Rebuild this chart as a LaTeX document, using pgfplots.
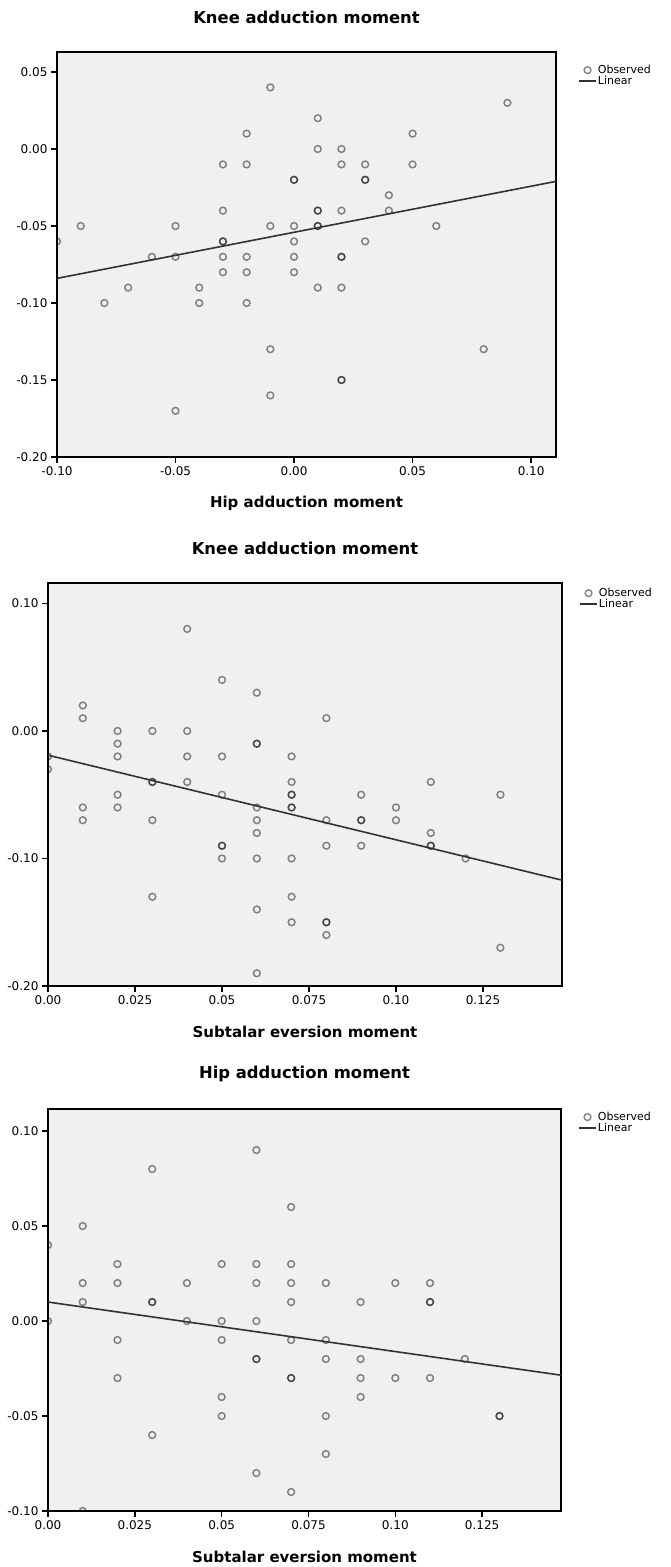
\documentclass[border=0pt]{standalone}
\usepackage{fontspec}
\setmainfont{DejaVu Sans}
\usepackage{pgfplots}
\pgfplotsset{compat=1.18}
\definecolor{bgc}{RGB}{240,240,240}
\definecolor{linec}{RGB}{50,50,50}
\pgfplotsset{
  spss/.style={
    scale only axis,
    axis background/.style={fill=bgc},
    axis line style={line width=1.6pt, black},
    tick align=outside,
    xtick pos=bottom, ytick pos=left,
    major tick length=6pt,
    tick style={line width=1.6pt, black},
    ticklabel style={font=\fontsize{12}{13}\selectfont},
    /pgf/number format/assume math mode=true,
    xlabel style={font=\bfseries\fontsize{15}{17}\selectfont, at={(0.5,0)}, anchor=center, yshift=-46pt},
    title style={font=\bfseries\fontsize{16.4}{18}\selectfont, at={(0.5,1)}, anchor=center, yshift=29pt},
    clip marker paths=true,
    legend style={draw=none, fill=none, font=\fontsize{11}{12}\selectfont,
      at={(1,1)}, anchor=north west, inner sep=0pt, row sep=-1pt,
      nodes={inner sep=1pt}},
    legend cell align=left,
  },
  obs/.style={only marks, mark=o, mark size=3.4pt,
    mark options={line width=1.45pt, draw=black, draw opacity=0.47}},
  lin/.style={no marks, color=linec, line width=1.6pt},
}
\begin{document}
\begin{tikzpicture}
\useasboundingbox (0,0) rectangle (670pt,-1567pt);
% ---------- Panel 1 ----------
\begin{axis}[spss,
  at={(57pt,-457pt)}, anchor=south west,
  width=499pt, height=405pt,
  xmin=-0.10, xmax=0.1105, ymin=-0.20, ymax=0.063,
  xtick={-0.10,-0.05,0,0.05,0.10},
  xticklabels={-0.10,-0.05,0.00,0.05,0.10},
  ytick={-0.20,-0.15,-0.10,-0.05,0,0.05},
  yticklabels={-0.20,-0.15,-0.10,-0.05,0.00,0.05},
  title={Knee adduction moment},
  xlabel={Hip adduction moment},
  legend style={xshift=22pt, yshift=-12pt},
]
\addplot[obs] coordinates {
(-0.10,-0.06)
(-0.09,-0.05)
(-0.08,-0.10)
(-0.07,-0.09)
(-0.06,-0.07)
(-0.05,-0.05) (-0.05,-0.07) (-0.05,-0.17)
(-0.04,-0.09) (-0.04,-0.10)
(-0.03,-0.01) (-0.03,-0.04) (-0.03,-0.06) (-0.03,-0.06) (-0.03,-0.07) (-0.03,-0.08)
(-0.02,0.01) (-0.02,-0.01) (-0.02,-0.07) (-0.02,-0.08) (-0.02,-0.10)
(-0.01,0.04) (-0.01,-0.05) (-0.01,-0.13) (-0.01,-0.16)
(0.00,-0.02) (0.00,-0.02) (0.00,-0.05) (0.00,-0.06) (0.00,-0.07) (0.00,-0.08)
(0.01,0.02) (0.01,0.00) (0.01,-0.04) (0.01,-0.04) (0.01,-0.05) (0.01,-0.05) (0.01,-0.09)
(0.02,0.00) (0.02,-0.01) (0.02,-0.04) (0.02,-0.07) (0.02,-0.07) (0.02,-0.09) (0.02,-0.15) (0.02,-0.15)
(0.03,-0.01) (0.03,-0.02) (0.03,-0.02) (0.03,-0.06)
(0.04,-0.03) (0.04,-0.04)
(0.05,0.01) (0.05,-0.01)
(0.06,-0.05)
(0.08,-0.13)
(0.09,0.03)
};
\addlegendentry{Observed}
\addplot[lin] coordinates {(-0.10,-0.084) (0.1105,-0.021)};
\addlegendentry{Linear}
\end{axis}
% ---------- Panel 2 ----------
\begin{axis}[spss,
  at={(48pt,-986pt)}, anchor=south west,
  width=514pt, height=403pt,
  xmin=0, xmax=0.1477, ymin=-0.20, ymax=0.116,
  xtick={0,0.025,0.05,0.075,0.10,0.125},
  xticklabels={0.00,0.025,0.05,0.075,0.10,0.125},
  ytick={-0.20,-0.10,0,0.10},
  yticklabels={-0.20,-0.10,0.00,0.10},
  title={Knee adduction moment},
  xlabel={Subtalar eversion moment},
  legend style={xshift=17pt, yshift=-4pt},
]
\addplot[obs] coordinates {
(0.00,-0.02) (0.00,-0.03)
(0.01,0.02) (0.01,0.01) (0.01,-0.06) (0.01,-0.07)
(0.02,0.00) (0.02,-0.01) (0.02,-0.02) (0.02,-0.05) (0.02,-0.06)
(0.03,0.00) (0.03,-0.04) (0.03,-0.04) (0.03,-0.07) (0.03,-0.13)
(0.04,0.08) (0.04,0.00) (0.04,-0.02) (0.04,-0.04)
(0.05,0.04) (0.05,-0.02) (0.05,-0.05) (0.05,-0.09) (0.05,-0.09) (0.05,-0.10)
(0.06,0.03) (0.06,-0.01) (0.06,-0.01) (0.06,-0.06) (0.06,-0.07) (0.06,-0.08) (0.06,-0.10) (0.06,-0.14) (0.06,-0.19)
(0.07,-0.02) (0.07,-0.04) (0.07,-0.05) (0.07,-0.05) (0.07,-0.06) (0.07,-0.06) (0.07,-0.10) (0.07,-0.13) (0.07,-0.15)
(0.08,0.01) (0.08,-0.07) (0.08,-0.09) (0.08,-0.15) (0.08,-0.15) (0.08,-0.16)
(0.09,-0.05) (0.09,-0.07) (0.09,-0.07) (0.09,-0.09)
(0.10,-0.06) (0.10,-0.07)
(0.11,-0.04) (0.11,-0.08) (0.11,-0.09) (0.11,-0.09)
(0.12,-0.10)
(0.13,-0.05) (0.13,-0.17)
};
\addlegendentry{Observed}
\addplot[lin] coordinates {(0,-0.019) (0.1477,-0.117)};
\addlegendentry{Linear}
\end{axis}
% ---------- Panel 3 ----------
\begin{axis}[spss,
  at={(48pt,-1511pt)}, anchor=south west,
  width=513pt, height=402pt,
  xmin=0, xmax=0.1477, ymin=-0.10, ymax=0.1116,
  xtick={0,0.025,0.05,0.075,0.10,0.125},
  xticklabels={0.00,0.025,0.05,0.075,0.10,0.125},
  ytick={-0.10,-0.05,0,0.05,0.10},
  yticklabels={-0.10,-0.05,0.00,0.05,0.10},
  title={Hip adduction moment},
  xlabel={Subtalar eversion moment},
  legend style={xshift=17pt, yshift=-2pt},
]
\addplot[obs] coordinates {
(0.00,0.04) (0.00,0.00)
(0.01,0.05) (0.01,0.02) (0.01,0.01) (0.01,-0.10)
(0.02,0.03) (0.02,0.02) (0.02,-0.01) (0.02,-0.03)
(0.03,0.08) (0.03,0.01) (0.03,0.01) (0.03,-0.06)
(0.04,0.02) (0.04,0.00)
(0.05,0.03) (0.05,0.00) (0.05,-0.01) (0.05,-0.04) (0.05,-0.05)
(0.06,0.09) (0.06,0.03) (0.06,0.02) (0.06,0.00) (0.06,-0.02) (0.06,-0.02) (0.06,-0.08)
(0.07,0.06) (0.07,0.03) (0.07,0.02) (0.07,0.01) (0.07,-0.01) (0.07,-0.03) (0.07,-0.03) (0.07,-0.09)
(0.08,0.02) (0.08,-0.01) (0.08,-0.02) (0.08,-0.05) (0.08,-0.07)
(0.09,0.01) (0.09,-0.02) (0.09,-0.03) (0.09,-0.04)
(0.10,0.02) (0.10,-0.03)
(0.11,0.02) (0.11,0.01) (0.11,0.01) (0.11,-0.03)
(0.12,-0.02)
(0.13,-0.05) (0.13,-0.05)
};
\addlegendentry{Observed}
\addplot[lin] coordinates {(0,0.010) (0.1477,-0.0285)};
\addlegendentry{Linear}
\end{axis}
\end{tikzpicture}
\end{document}
